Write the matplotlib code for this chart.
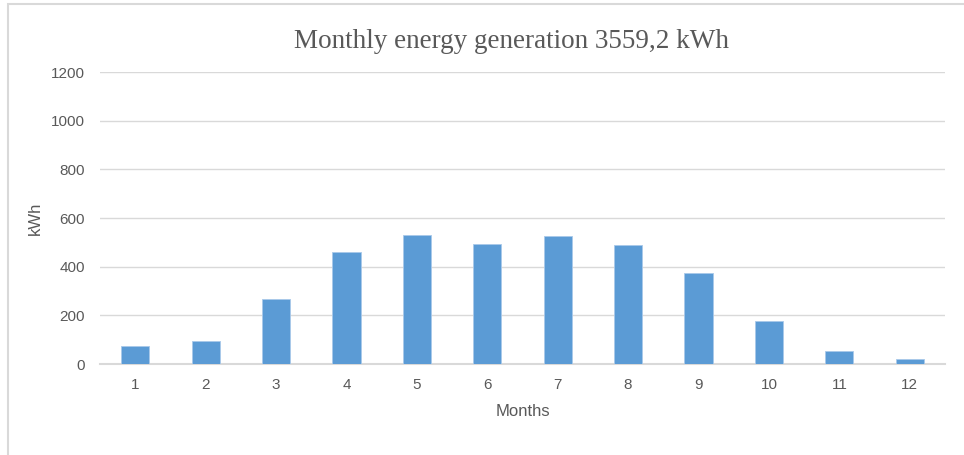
import matplotlib
matplotlib.use("Agg")
import matplotlib.pyplot as plt
from matplotlib.patches import Rectangle

# Monthly energy generation (kWh)
months = ["1", "2", "3", "4", "5", "6", "7", "8", "9", "10", "11", "12"]
energy = [74, 95, 266, 461, 532, 495, 528, 488, 373, 177, 53, 20]
yticks = [0, 200, 400, 600, 800, 1000, 1200]
title = "Monthly energy generation 3559,2 kWh"

bar_color = "#5b9bd5"
grid_color = "#d9d9d9"
text_color = "#595959"
label_font = ["Liberation Sans Narrow", "Liberation Sans", "DejaVu Sans"]

fig = plt.figure(figsize=(9.64, 4.55), dpi=100)
ax = fig.add_axes([100 / 964, 1 - 364 / 455, 845 / 964, 292 / 455])

x = list(range(len(months)))
ax.bar(x, energy, width=0.4, color=bar_color, edgecolor="#a9c9ea", linewidth=0.6, zorder=3)

ax.set_xlim(-0.5, len(months) - 0.5)
ax.set_ylim(0, 1200)
ax.set_yticks(yticks)
ax.set_yticklabels([str(v) for v in yticks], family=label_font, fontsize=11, color=text_color)
ax.set_xticks(x)
ax.set_xticklabels(months, family=label_font, fontsize=11, color=text_color)
ax.tick_params(axis="both", length=0)
ax.tick_params(axis="y", pad=11)
ax.tick_params(axis="x", pad=10)

ax.grid(axis="y", color=grid_color, linewidth=1, zorder=0)
for side in ["top", "right", "left"]:
    ax.spines[side].set_visible(False)
ax.spines["bottom"].set_color(grid_color)
ax.spines["bottom"].set_linewidth(1.5)

ax.set_ylabel("kWh", family=label_font, fontsize=12, color=text_color, labelpad=5.5)
ax.set_xlabel("Months", family=label_font, fontsize=12, color=text_color, labelpad=9)

fig.text(512 / 964, 1 - 41 / 455, title, ha="center", va="center",
         family=["Liberation Serif", "DejaVu Serif"], fontsize=19.5, color=text_color)

# light frame of the chart area
fig.patches.append(Rectangle((8 / 964, -0.1), 1.2, 1 - 4 / 455 + 0.1,
                             transform=fig.transFigure, fill=False,
                             edgecolor=grid_color, linewidth=1.5))

fig.savefig("out.png", dpi=100, facecolor="white")
